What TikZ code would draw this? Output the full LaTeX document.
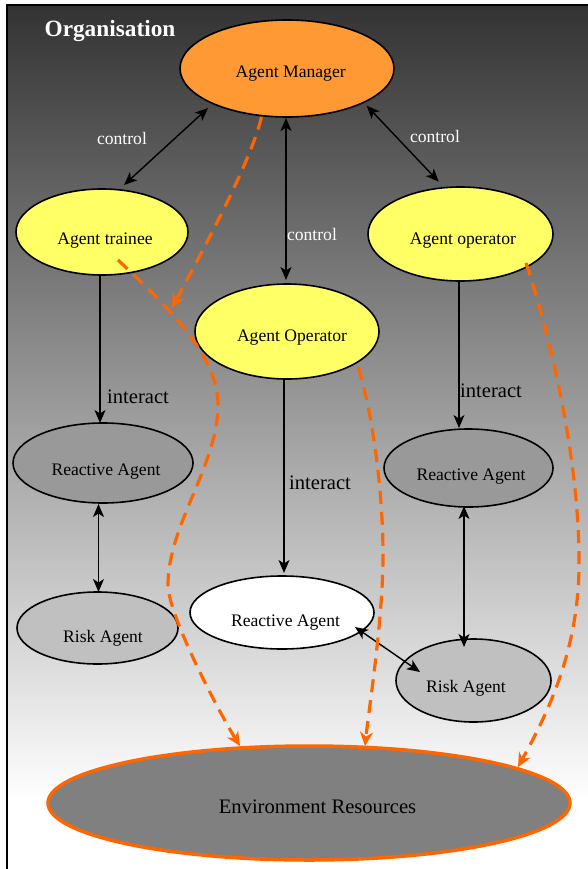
\documentclass[tikz,border=0pt]{standalone}
\usepackage{fontspec}
\setmainfont{Liberation Serif}
\usetikzlibrary{shapes.geometric,arrows.meta}

\definecolor{mgrorange}{HTML}{FF9933}
\definecolor{agyellow}{HTML}{FFFF66}
\definecolor{reactgray}{HTML}{999999}
\definecolor{riskgray}{HTML}{C0C0C0}
\definecolor{envgray}{HTML}{808080}
\definecolor{linkorange}{HTML}{FF6600}
\definecolor{bgtop}{HTML}{333333}

% text set inside an ellipse, shifted by (#1/2, #2) from its centre
\newcommand\nodetext[3]{\raisebox{#2}[0pt][0pt]{\makebox[0pt]{\hspace*{#1}#3}}}

\begin{document}
\begin{tikzpicture}[x=1pt,y=-1pt,
  >={Stealth[length=13pt,width=11pt,inset=3.5pt]},
  agent/.style={ellipse, draw=black, line width=1.6pt, inner sep=0pt,
    font=\fontsize{17.6}{20}\selectfont},
  envnode/.style={ellipse, draw=linkorange, line width=3.5pt, fill=envgray,
    inner sep=0pt, font=\fontsize{20.6}{24}\selectfont},
  link/.style={line width=1.4pt, black},
  usage/.style={line width=3.2pt, linkorange, dash pattern=on 13pt off 8pt,
    -{Stealth[length=14pt,width=13pt,inset=4.5pt]}},
  ctrllbl/.style={anchor=base, text=white, font=\fontsize{17.6}{20}\selectfont},
  actlbl/.style={anchor=base, text=black, font=\fontsize{20.6}{24}\selectfont}
]
\useasboundingbox (0,0) rectangle (588,869);
\clip (0,0) rectangle (588,869);

% cluster background and frame
\fill[white] (0,0) rectangle (588,869);
\shade[top color=bgtop, bottom color=white] (7,5.5) rectangle (600,800);
\draw[line width=2pt] (7,880) -- (7,5.5) -- (600,5.5);

\node[anchor=base, text=white, font=\bfseries\fontsize{23.3}{26}\selectfont]
  (org) at (110,37) {Organisation};

% agents
\node[agent, fill=mgrorange, minimum width=214pt, minimum height=97pt]
  (am) at (287,68.5) {\nodetext{7.4pt}{-9.2pt}{Agent Manager}};
\node[agent, fill=agyellow, minimum width=172pt, minimum height=86pt]
  (tr) at (102,232) {\nodetext{6pt}{-12pt}{Agent trainee}};
\node[agent, fill=agyellow, minimum width=184pt, minimum height=95pt]
  (op) at (287,331.5) {\nodetext{10pt}{-9.5pt}{Agent Operator}};
\node[agent, fill=agyellow, minimum width=185pt, minimum height=94pt]
  (or) at (460.5,234) {\nodetext{5pt}{-10pt}{Agent operator}};
\node[agent, fill=reactgray, minimum width=180pt, minimum height=80pt]
  (ral) at (103,463) {\nodetext{6pt}{-12pt}{Reactive Agent}};
\node[agent, fill=reactgray, minimum width=169pt, minimum height=78pt]
  (rar) at (468.5,468) {\nodetext{5pt}{-12pt}{Reactive Agent}};
\node[agent, fill=riskgray, minimum width=161pt, minimum height=72pt]
  (rkl) at (97.5,628) {\nodetext{11pt}{-14pt}{Risk Agent}};
\node[agent, fill=white, minimum width=184pt, minimum height=73pt]
  (ram) at (282,612.5) {\nodetext{7pt}{-13.5pt}{Reactive Agent}};
\node[agent, fill=riskgray, minimum width=155pt, minimum height=83pt]
  (rkr) at (473.5,680.5) {\nodetext{-15pt}{-11.5pt}{Risk Agent}};
\node[envnode, minimum width=522pt, minimum height=114pt]
  (env) at (309,803) {\nodetext{17pt}{-10pt}{Environment Resources}};

% control and interaction links
\draw[link, <->] ([shift={(-79,39.5)}]am.center) -- ([shift={(22,-47)}]tr.center);
\draw[link, <->] ([shift={(79.7,37.2)}]am.center) -- ([shift={(-21.8,-52.3)}]or.center);
\draw[link, <->] ([shift={(-1,49.5)}]am.center) -- ([shift={(-1,-51.5)}]op.center);
\draw[link, ->] ([shift={(-2,42)}]tr.center) -- ([shift={(-3,-40)}]ral.center);
\draw[link, <->] ([shift={(-4.5,41)}]ral.center) -- ([shift={(1,-36)}]rkl.center);
\draw[link, ->] ([shift={(-3,47.5)}]op.center) -- ([shift={(2,-39.5)}]ram.center);
\draw[link, ->] ([shift={(-1.5,47)}]or.center) -- ([shift={(-9.5,-40)}]rar.center);
\draw[link, <->] ([shift={(-4.5,38)}]rar.center) -- ([shift={(-9.5,-33.5)}]rkr.center);
\draw[link, <->] ([shift={(73,14.5)}]ram.center) -- ([shift={(-53.5,-8.5)}]rkr.center);

% resource usage links
\coordinate (amuse) at (172,308);
\draw[usage] ([shift={(-25.5,48.5)}]am.center)
  .. controls (250,165) and (200,255) .. (amuse);
\draw[usage] ([shift={(16,28)}]tr.center)
  .. controls (168,307) and (218,355) .. (218,405)
  .. controls (218,465) and (168,525) .. (168,585)
  .. controls (168,615) and (220,714) .. ([shift={(-69,-57)}]env.center);
\draw[usage] ([shift={(71,35.5)}]op.center)
  .. controls (372,410) and (383,490) .. (383,555)
  .. controls (383,620) and (369,708) .. ([shift={(56,-57)}]env.center);
\draw[usage] ([shift={(65.5,29)}]or.center)
  .. controls (551,338) and (579,460) .. (579,560)
  .. controls (580,650) and (546,716) .. ([shift={(209,-36)}]env.center);

% link labels
\node[ctrllbl] (c1) at (122,145) {control};
\node[ctrllbl] (c2) at (435,143) {control};
\node[ctrllbl] (c3) at (312,240) {control};
\node[actlbl] (i1) at (138,403) {interact};
\node[actlbl] (i2) at (491,397) {interact};
\node[actlbl] (i3) at (320,489) {interact};
\end{tikzpicture}
\end{document}
